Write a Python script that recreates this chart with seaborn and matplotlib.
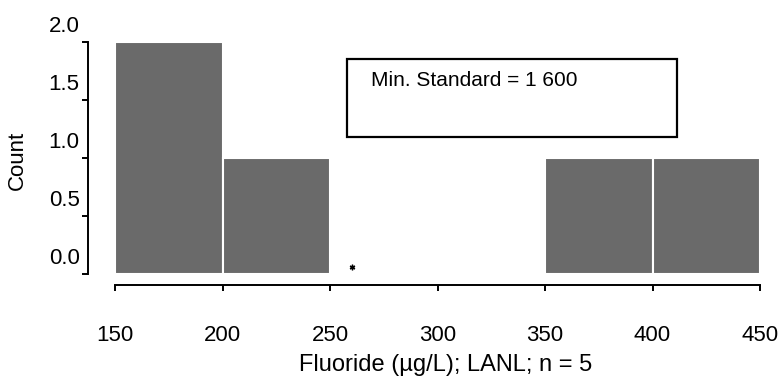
import matplotlib
matplotlib.use("Agg")
import matplotlib.pyplot as plt
import matplotlib.transforms as mtransforms
from matplotlib.patches import Rectangle
import seaborn as sns

# Data
bin_edges = [150, 200, 250, 300, 350, 400, 450]
bin_centers = [175, 225, 275, 325, 375, 425]
counts = [2, 1, 0, 0, 1, 1]
marker_x = [260]
marker_y = [0.06]
x_ticks = [150, 200, 250, 300, 350, 400, 450]
y_ticks = [0.0, 0.5, 1.0, 1.5, 2.0]
box_text = "Min. Standard = 1 600"

sns.set_theme(style="white")
plt.rcParams['font.family'] = ['Liberation Sans', 'DejaVu Sans']
plt.rcParams['text.color'] = 'black'
plt.rcParams['axes.labelcolor'] = 'black'
plt.rcParams['xtick.color'] = 'black'
plt.rcParams['ytick.color'] = 'black'

fig = plt.figure(figsize=(7.8, 3.81), dpi=100)
ax = fig.add_axes([115/780, 1-274/381, 645/780, 232/381])

sns.histplot(x=bin_centers, weights=counts, bins=bin_edges, ax=ax,
             color="#6a6a6a", edgecolor="white", linewidth=1.5, alpha=1.0)

ax.plot(marker_x, marker_y, marker=(6, 2, 0), color="black", markersize=4,
        linestyle="none")

ax.set_xlim(150, 450)
ax.set_ylim(0, 2)
ax.set_xticks(x_ticks)
ax.set_yticks(y_ticks)
ax.set_yticklabels([f"{v:.1f}" for v in y_ticks])
ax.set_xticklabels([str(v) for v in x_ticks])

for s in ["top", "right"]:
    ax.spines[s].set_visible(False)
ax.spines["left"].set_position(("outward", 19.5))
ax.spines["bottom"].set_position(("outward", 8))
for s in ["left", "bottom"]:
    ax.spines[s].set_color("black")
    ax.spines[s].set_linewidth(1.4)

ax.tick_params(axis="x", direction="out", length=4, width=1.4, colors="black",
               labelsize=16, pad=25, bottom=True)
ax.tick_params(axis="y", direction="out", length=4.5, width=1.4, colors="black",
               labelsize=16, pad=1.5, left=True)

# y tick labels sit a little above their ticks in the reference
offset = mtransforms.ScaledTranslation(0, 18/100, fig.dpi_scale_trans)
for lab in ax.get_yticklabels():
    lab.set_transform(lab.get_transform() + offset)

ax.set_xlabel("Fluoride (µg/L); LANL; n = 5", fontsize=17, color="black")
ax.xaxis.set_label_coords(0.513, -0.345)
ax.set_ylabel("Count", fontsize=16, color="black")
ax.yaxis.set_label_coords(-0.135, 0.49)

# Text box
rect = Rectangle((258, 1.178), 153.5, 0.673, facecolor="white",
                 edgecolor="black", linewidth=1.6, zorder=5)
ax.add_patch(rect)
ax.text(269, 1.664, box_text, fontsize=15, va="center", ha="left",
        color="black", zorder=6)

ax.grid(False)
fig.savefig("out.png", dpi=100)
